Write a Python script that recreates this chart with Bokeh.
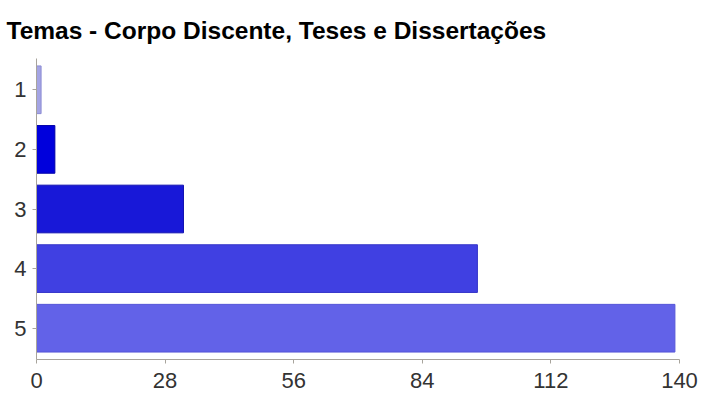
from bokeh.plotting import figure
from bokeh.models import ColumnDataSource, FactorRange, Range1d, FixedTicker
from bokeh.embed import file_html
from bokeh.resources import INLINE

# Number of responses per rating
ratings = ["1", "2", "3", "4", "5"]
counts = [1, 4, 32, 96, 139]
x_ticks = [0, 28, 56, 84, 112, 140]

bar_colors = ["#a4a4e4", "#0000dc", "#1818d8", "#4040e2", "#6262e8"]
bar_edges = ["#8c8cd4", "#0000a8", "#1010b0", "#3434c8", "#5656d8"]

source = ColumnDataSource(dict(rating=ratings, count=counts,
                               fill=bar_colors, edge=bar_edges))

p = figure(
    width=701, height=395,
    y_range=FactorRange(factors=list(reversed(ratings)), range_padding=0.01),
    x_range=Range1d(0, 140),
    output_backend="svg", toolbar_location=None,
    min_border_left=36, min_border_right=22,
    min_border_top=57, min_border_bottom=36,
    title="Temas - Corpo Discente, Teses e Dissertações",
)

p.hbar(y="rating", left=0, right="count", height=0.8, source=source,
       fill_color="fill", line_color="edge", line_width=1)

p.title.text_font = "Liberation Sans"
p.title.text_font_style = "bold"
p.title.text_font_size = "24.5px"
p.title.text_color = "#000000"
p.title.offset = -30
p.title.standoff = 29

p.xgrid.visible = False
p.ygrid.visible = False
p.outline_line_color = None
p.background_fill_color = "white"
p.border_fill_color = "white"

for ax in (p.xaxis[0], p.yaxis[0]):
    ax.axis_line_color = "#a8a49c"
    ax.major_tick_line_color = "#a8a49c"
    ax.major_tick_out = 4
    ax.major_tick_in = 0
    ax.minor_tick_line_color = None
    ax.major_label_text_font = "Liberation Sans"
    ax.major_label_text_font_size = "22px"
    ax.major_label_text_color = "#333333"

p.xaxis[0].major_label_standoff = 9
p.yaxis[0].major_label_standoff = 6
p.xaxis[0].ticker = FixedTicker(ticks=x_ticks)

open("out.html", "w").write(file_html(p, INLINE))
